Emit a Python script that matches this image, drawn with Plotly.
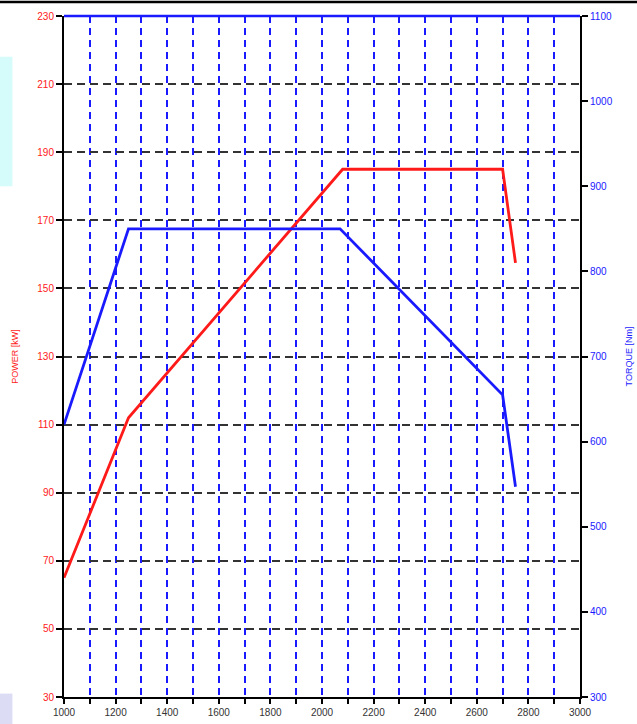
import plotly.graph_objects as go

# Data
power_rpm = [1000, 1250, 2080, 2700, 2750]
power_kw = [65, 112, 185, 185, 157.5]

torque_rpm = [1000, 1250, 2070, 2700, 2750]
torque_nm = [620, 850, 850, 655, 547]

x_tick_vals = [1000, 1200, 1400, 1600, 1800, 2000, 2200, 2400, 2600, 2800, 3000]
power_ticks = [30, 50, 70, 90, 110, 130, 150, 170, 190, 210, 230]
torque_ticks = [300, 400, 500, 600, 700, 800, 900, 1000, 1100]

RED = "#ff1a1a"
BLUE = "#1a1aff"
FONT = "Liberation Sans, Arial, sans-serif"

fig = go.Figure()
fig.add_trace(go.Scatter(x=power_rpm, y=power_kw, mode="lines",
                         line=dict(color=RED, width=2.8), yaxis="y", showlegend=False))
fig.add_trace(go.Scatter(x=torque_rpm, y=torque_nm, mode="lines",
                         line=dict(color=BLUE, width=2.8), yaxis="y2", showlegend=False))

fig.update_layout(
    width=637, height=724,
    margin=dict(l=64, r=57, t=16, b=27, autoexpand=False),
    paper_bgcolor="white", plot_bgcolor="white",
    font=dict(family=FONT, size=10),
    xaxis=dict(
        range=[1000, 3000], tickvals=x_tick_vals, automargin=False,
        ticks="outside", ticklen=5, tickcolor="black", tickwidth=1.5,
        tickfont=dict(color="#333333", size=10),
        showline=True, linecolor="black", linewidth=2,
        showgrid=True, gridcolor=BLUE, griddash="7px,5px", gridwidth=1.8,
        minor=dict(dtick=100, tick0=1000, ticks="outside", ticklen=5, tickcolor="black",
                   showgrid=True, gridcolor=BLUE, griddash="7px,5px", gridwidth=1.8),
        zeroline=False,
    ),
    yaxis=dict(
        range=[30, 230], tickvals=power_ticks, automargin=False,
        ticks="outside", ticklen=6, tickcolor="black", tickwidth=1.5,
        tickfont=dict(color=RED, size=10),
        showline=True, linecolor="black", linewidth=2,
        showgrid=True, gridcolor="#333333", griddash="8px,5px", gridwidth=1.8,
        zeroline=False,
        title=dict(text="POWER [kW]", font=dict(color=RED, size=9), standoff=17),
    ),
    yaxis2=dict(
        range=[300, 1100], tickvals=torque_ticks, automargin=False,
        overlaying="y", side="right",
        ticks="outside", ticklen=6, tickcolor="black", tickwidth=1.5,
        tickfont=dict(color=BLUE, size=10),
        showline=True, linecolor="black", linewidth=2,
        showgrid=False, zeroline=False,
        title=dict(text="TORQUE [Nm]", font=dict(color=BLUE, size=9), standoff=14),
    ),
)

# top frame line (blue) and page artifacts
fig.add_shape(type="line", xref="paper", yref="paper", x0=0, x1=1, y0=1, y1=1,
              line=dict(color=BLUE, width=2.5))
fig.add_shape(type="line", xref="paper", yref="paper", x0=-0.2, x1=1.2, y0=1.0205, y1=1.0205,
              line=dict(color="black", width=2.5))
fig.add_shape(type="rect", xref="paper", yref="paper", x0=-0.124, x1=-0.1, y0=0.75, y1=0.94,
              fillcolor="#d6fbfb", line=dict(width=0), layer="below")
fig.add_shape(type="rect", xref="paper", yref="paper", x0=-0.124, x1=-0.1, y0=-0.04, y1=0.005,
              fillcolor="#dcdcf4", line=dict(width=0), layer="below")

fig.write_html("out.html", config={"displayModeBar": False},
               post_script="document.body.style.margin='0';document.body.style.overflow='hidden';")
